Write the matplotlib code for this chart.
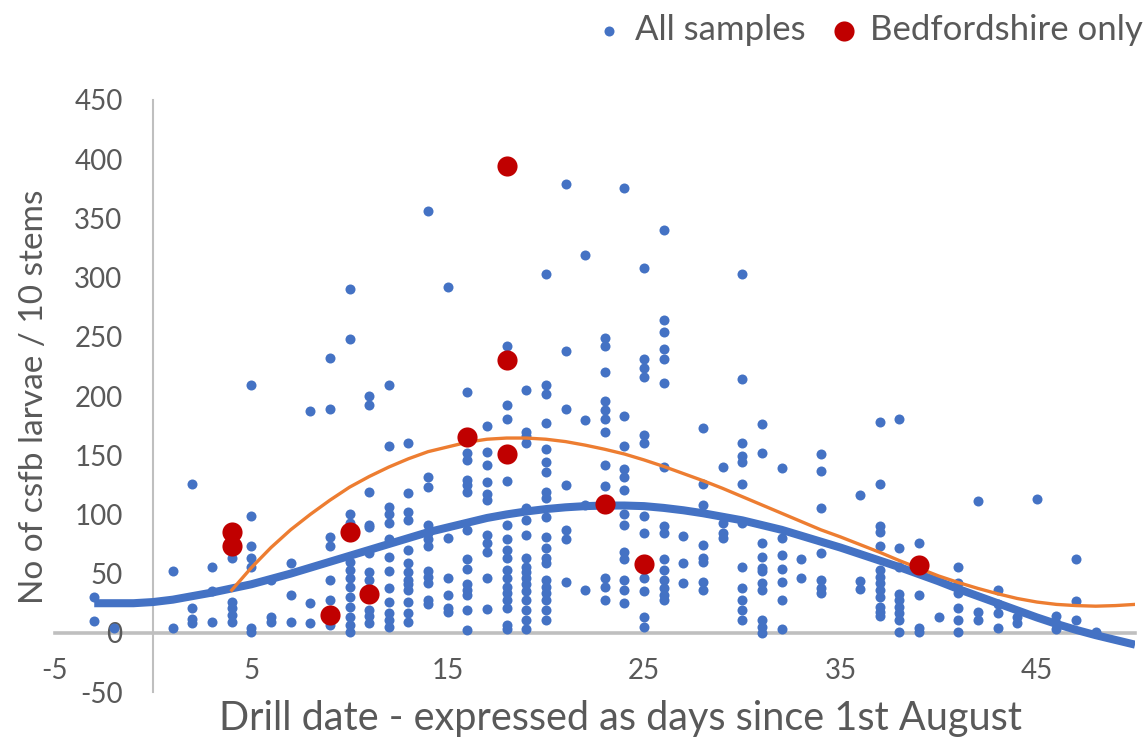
import numpy as np
import matplotlib.pyplot as plt

# drill day (days since 1st August) and the larvae counts of all samples drilled that day
drill_days = [-3, -2, 1, 2, 3, 4, 5, 6, 7, 8, 9, 10, 11, 12, 13, 14, 15, 16, 17, 18,
              19, 20, 21, 22, 23, 24, 25, 26, 27, 28, 29, 30, 31, 32, 33, 34, 36, 37,
              38, 39, 40, 41, 42, 43, 44, 45, 46, 47, 48]
larvae_by_day = [
    [30, 10],
    [4],
    [52, 4],
    [126, 21, 12, 8],
    [56, 35, 9],
    [63, 26, 21, 15, 9],
    [209, 99, 73, 63, 56, 4, 1],
    [45, 13, 9],
    [59, 32, 9],
    [187, 25, 8],
    [232, 189, 81, 73, 45, 28, 7],
    [290, 248, 100, 93, 60, 53, 46, 39, 30, 22, 13, 7, 1],
    [200, 192, 119, 91, 89, 67, 51, 45, 19, 14, 8],
    [209, 158, 106, 100, 93, 79, 64, 52, 38, 26, 17, 11, 5],
    [160, 118, 102, 95, 70, 59, 51, 45, 41, 36, 26, 17, 9],
    [356, 132, 123, 91, 84, 79, 73, 52, 47, 42, 28, 24],
    [292, 80, 46, 32, 21, 18],
    [203, 152, 146, 129, 125, 119, 87, 62, 54, 41, 36, 32, 19, 2],
    [175, 153, 142, 127, 117, 112, 83, 76, 68, 46, 20],
    [242, 192, 181, 128, 91, 79, 70, 63, 53, 46, 39, 34, 28, 21, 7, 3],
    [205, 170, 166, 160, 105, 95, 83, 63, 56, 51, 46, 41, 35, 28, 19, 11, 3],
    [303, 209, 202, 177, 155, 144, 136, 119, 114, 98, 81, 72, 63, 59, 45, 39, 34, 28, 19, 11],
    [379, 238, 189, 125, 87, 79, 43],
    [319, 180, 108, 36],
    [249, 242, 220, 196, 188, 181, 170, 142, 124, 46, 39, 28],
    [376, 183, 158, 138, 132, 121, 100, 91, 68, 62, 45, 36, 25],
    [308, 231, 224, 216, 167, 160, 99, 84, 46, 35, 13, 5],
    [340, 264, 254, 240, 231, 211, 140, 90, 84, 62, 53, 45, 38, 32, 28],
    [82, 59, 42],
    [173, 126, 108, 74, 63, 60, 43, 36],
    [140, 93, 84, 80],
    [303, 214, 160, 149, 144, 126, 93, 56, 38, 28, 19, 11],
    [176, 152, 76, 64, 55, 52, 42, 36, 11, 5, 0],
    [139, 80, 66, 54, 43, 28, 3],
    [62, 46],
    [151, 137, 105, 67, 45, 38, 34],
    [116, 44, 37],
    [178, 126, 90, 85, 73, 53, 47, 42, 36, 30, 22, 18, 14],
    [181, 72, 56, 33, 28, 22, 17, 11, 1],
    [76, 32, 4, 1],
    [13],
    [56, 42, 34, 21, 11, 1],
    [111, 18, 11],
    [36, 24, 17, 4],
    [13, 8],
    [113],
    [14, 8, 3],
    [62, 27, 11],
    [1],
]

# Bedfordshire samples
bed_x = [4, 4, 9, 10, 11, 16, 18, 18, 18, 23, 25, 39]
bed_y = [85, 73, 15, 85, 33, 165, 394, 230, 151, 109, 58, 57]

# trendlines, one reading per day
trend_all_x = list(range(-3, 51))
trend_all_y = [25, 25, 25, 26, 28, 31, 34, 37.5, 41, 45.5, 50, 55, 60, 65, 70, 75, 80, 85,
               89, 93, 97, 100, 102.5, 104.5, 106, 107, 107.5, 107.5, 107, 105.5, 103.5,
               101, 98, 95, 91, 87, 82, 77, 72, 66.5, 61, 55.5, 49.5, 43.5, 37, 31, 25, 19,
               13, 7.5, 2.5, -2, -6, -10]
trend_bed_x = list(range(4, 51))
trend_bed_y = [36, 55, 72, 87, 100, 112, 123, 132, 140, 147, 153, 157, 161, 163.5, 164.5,
               164.5, 163.5, 161.5, 158.5, 155, 151, 146, 140.5, 134.5, 128.5, 122, 115,
               108, 101, 94, 87, 81, 74.5, 68, 61, 54.5, 48, 42.5, 37.5, 33, 29, 26, 24, 23,
               22.5, 23, 24]

x_ticks = [-5, 5, 15, 25, 35, 45]
y_ticks = [-50, 0, 50, 100, 150, 200, 250, 300, 350, 400, 450]

all_x = np.concatenate([[d] * len(v) for d, v in zip(drill_days, larvae_by_day)])
all_y = np.concatenate(larvae_by_day)

plt.rcParams['font.family'] = ['Lato', 'DejaVu Sans']
plt.rcParams['axes.unicode_minus'] = False
grey = '#595959'

fig = plt.figure(figsize=(11.45, 7.38), dpi=100)
ax = fig.add_axes([0.048, 0.0623, 0.9433, 0.8022])

blue = ax.scatter(all_x, all_y, s=52, color='#4472C4', linewidths=0, zorder=3,
                  label='All samples')
ax.plot(trend_all_x, trend_all_y, color='#4472C4', lw=5.8, solid_capstyle='butt', zorder=4)
ax.plot(trend_bed_x, trend_bed_y, color='#ED7D31', lw=2.4, zorder=5)
red = ax.scatter(bed_x, bed_y, s=210, color='#C00000', linewidths=0, zorder=6,
                 label='Bedfordshire only')

ax.set_xlim(-5, 50)
ax.set_ylim(-50, 450)
ax.set_xticks(x_ticks)
ax.set_yticks(y_ticks)

for side in ['top', 'right']:
    ax.spines[side].set_visible(False)
ax.spines['left'].set_position(('data', 0))
ax.spines['bottom'].set_position(('data', 0))
ax.spines['left'].set_color('#bfbfbf')
ax.spines['left'].set_linewidth(1.5)
ax.spines['bottom'].set_color('#bfbfbf')
ax.spines['bottom'].set_linewidth(2.6)
ax.spines['left'].set_zorder(1)
ax.spines['bottom'].set_zorder(1)

ax.tick_params(axis='y', length=0, pad=22, labelsize=20, labelcolor=grey)
ax.tick_params(axis='x', length=0, pad=18, labelsize=20, labelcolor=grey)

fig.text(0.542, 0.027, 'Drill date - expressed as days since 1st August', ha='center',
         va='center', fontsize=28.5, color=grey)
fig.text(0.030, 0.462, 'No of csfb larvae / 10 stems', ha='center', va='center',
         rotation=90, fontsize=24, color=grey)

fig.legend(handles=[blue, red], loc='upper right', bbox_to_anchor=(1.004, 0.99), ncol=2,
           frameon=False, fontsize=25, labelcolor=grey, handlelength=0.8,
           handletextpad=0.35, columnspacing=0.7, borderaxespad=0.0, borderpad=0.2,
           scatterpoints=1)

fig.savefig('out.png', dpi=100)
